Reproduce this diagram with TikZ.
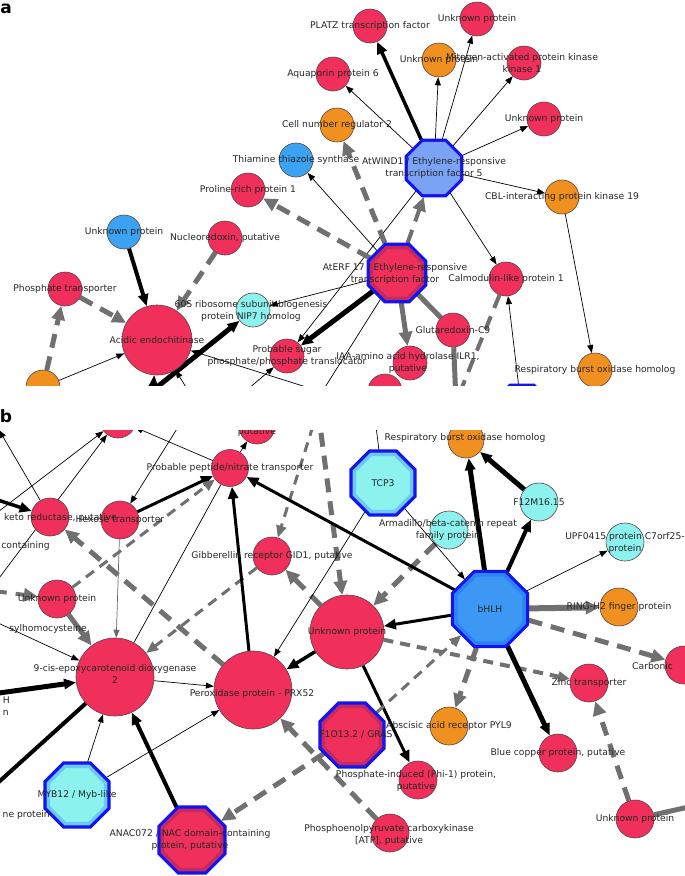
\documentclass[tikz,border=0pt]{standalone}
\usepackage{fontspec}
\newfontfamily\genefont{DejaVu Sans}
\usetikzlibrary{arrows.meta,shapes.geometric}
\definecolor{geneRed}{HTML}{F0305A}
\definecolor{geneOrange}{HTML}{F0901E}
\definecolor{geneBlue}{HTML}{3CA3F2}
\definecolor{geneCyan}{HTML}{8CF2EE}
\definecolor{geneEdge}{HTML}{5B4048}
\definecolor{tfBlue}{HTML}{1414F0}
\definecolor{tfPeri}{HTML}{7BA3F5}
\definecolor{tfRing}{HTML}{C42A62}
\definecolor{tfSky}{HTML}{6CC8F5}
\definecolor{tfMid}{HTML}{3C98F2}
\definecolor{tfMidRing}{HTML}{2A84F8}
\definecolor{edgeGray}{HTML}{707070}
\pgfdeclarelayer{edges}
\pgfdeclarelayer{texts}
\pgfsetlayers{edges,main,texts}

\begin{document}
\begin{tikzpicture}[
  x=1pt,
  y=-1pt,
  gene/.style={
    circle,
    draw=geneEdge,
    line width=.6pt,
    inner sep=0pt,
    minimum size=36pt
  },
  redgene/.style={gene, fill=geneRed},
  orangegene/.style={gene, fill=geneOrange},
  bluegene/.style={gene, fill=geneBlue},
  cyangene/.style={gene, fill=geneCyan},
  tf/.style={
    regular polygon,
    regular polygon sides=8,
    inner sep=0pt,
    outer sep=4.5pt,
    minimum size=62pt,
    line width=3.5pt,
    preaction={draw=tfBlue, line width=10pt}
  },
  peritf/.style={tf, fill=tfPeri, draw=tfPeri},
  redtf/.style={tf, fill=geneRed, draw=tfRing},
  cyantf/.style={tf, fill=geneCyan, draw=tfSky},
  bluetf/.style={tf, fill=tfMid, draw=tfMidRing},
  lbl/.style={
    font=\genefont\fontsize{9.2}{11.8}\selectfont,
    text=black!85,
    align=center,
    inner sep=0pt
  },
  panel/.style={font=\genefont\bfseries\fontsize{17}{17}\selectfont, inner sep=0pt},
  thinedge/.style={draw=black, line width=.7pt, -{Triangle[length=8pt,width=6pt]}},
  thickedge/.style={draw=black, line width=3.5pt, -{Triangle[length=12pt,width=10pt]}},
  greydash/.style={draw=edgeGray, line width=5pt, dash pattern=on 14pt off 9pt,
    -{Triangle[length=14pt,width=13pt]}},
  greymid/.style={draw=edgeGray, line width=3pt, dash pattern=on 10pt off 7pt,
    -{Triangle[length=12pt,width=10pt]}},
  greyline/.style={draw=edgeGray, line width=5pt, -{Triangle[length=14pt,width=13pt]}}
]

\useasboundingbox (0,0) rectangle (685,876);

\node[panel] (pa) at (6,9) {a};
\node[panel] (pb) at (6,416) {b};

% ---- panel a ----
\begin{scope}
  \clip (0,0) rectangle (685,385);
  \node[redgene, minimum size=34pt] (plat) at (370,26) {};
  \node[redgene, minimum size=34pt] (unktop) at (477,19) {};
  \node[orangegene, minimum size=34pt] (unkor) at (439,60) {};
  \node[redgene, minimum size=34pt] (mapk) at (524,63) {};
  \node[redgene, minimum size=34pt] (aqua) at (333,74) {};
  \node[redgene, minimum size=34pt] (unkr) at (544,119) {};
  \node[orangegene, minimum size=34pt] (cell) at (337,125) {};
  \node[bluegene, minimum size=34pt] (thia) at (296,160) {};
  \node[redgene, minimum size=34pt] (prol) at (248,190) {};
  \node[orangegene, minimum size=34pt] (cbl) at (562,197) {};
  \node[bluegene, minimum size=34pt] (unkb) at (124,232) {};
  \node[redgene, minimum size=34pt] (nucl) at (225,238) {};
  \node[redgene, minimum size=34pt] (phos) at (65,289) {};
  \node[redgene, minimum size=70pt] (acid) at (157,340) {};
  \node[cyangene, minimum size=34pt] (nip) at (253,310) {};
  \node[redgene, minimum size=34pt] (calm) at (506,279) {};
  \node[redgene, minimum size=34pt] (glut) at (453,330) {};
  \node[redgene, minimum size=34pt] (iaa) at (410,363) {};
  \node[redgene, minimum size=34pt] (sug) at (287,356) {};
  \node[orangegene, minimum size=34pt] (rboh) at (595,370) {};
  \node[orangegene, minimum size=34pt] (orA) at (43,387) {};
  \node[redgene, minimum size=34pt] (redA) at (385,391) {};
  \node[peritf, minimum size=53pt] (wind) at (434,168) {};
  \node[redtf, minimum size=55pt] (erf) at (397,273) {};
  \node[peritf, minimum size=55pt] (octA) at (522,414) {};
\end{scope}
\coordinate (hA1) at (116,420);
\coordinate (hA2) at (150,430);
\coordinate (hA3) at (200,410);
\coordinate (hA4) at (322,392);
\coordinate (hA5) at (456,402);
\coordinate (hA6) at (235,400);

\begin{pgfonlayer}{edges}
\begin{scope}
  \clip (0,0) rectangle (685,385);
  \draw[thickedge] (wind) -- (plat);
  \draw[thinedge] (wind) -- (aqua);
  \draw[thinedge] (wind) -- (unkor);
  \draw[thinedge] (wind) -- (unktop);
  \draw[thinedge] (wind) -- (mapk);
  \draw[thinedge] (wind) -- (unkr);
  \draw[thinedge] (wind) -- (cbl);
  \draw[thinedge] (wind) -- (calm);
  \draw[thinedge] (wind) -- (sug);
  \draw[thinedge] (erf) -- (thia);
  \draw[thinedge] (erf) -- (nip);
  \draw[greydash] (erf) -- (cell);
  \draw[greydash] (erf) -- (prol);
  \draw[greydash, line width=4pt] (erf) -- (wind);
  \draw[thickedge, line width=5pt] (erf) -- (sug);
  \draw[greyline] (erf) -- (iaa);
  \draw[greyline, -] (erf) -- (glut);
  \draw[greyline, -] (glut) -- (hA5);
  \draw[greydash, line width=4pt, -] (calm) -- (hA5);
  \draw[thinedge] (octA) -- (calm);
  \draw[thinedge] (cbl) -- (rboh);
  \draw[thickedge, line width=4pt] (unkb) -- (acid);
  \draw[greydash] (nucl) -- (acid);
  \draw[greydash] (phos) -- (acid);
  \draw[greydash] (orA) -- (phos);
  \draw[thinedge] (orA) -- (acid);
  \draw[thickedge, line width=5pt] (hA1) -- (nip);
  \draw[thickedge, line width=1.5pt] (hA2) -- (acid);
  \draw[thinedge] (hA3) -- (acid);
  \draw[thinedge] (hA4) -- (acid);
  \draw[thinedge, -] (erf) -- (hA4);
  \draw[thinedge] (hA6) -- (sug);
\end{scope}
\end{pgfonlayer}

\begin{pgfonlayer}{texts}
\begin{scope}
  \clip (0,0) rectangle (685,385);
  \node[lbl] (platT) at (plat) {PLATZ transcription factor};
  \node[lbl] (unktopT) at (unktop) {Unknown protein};
  \node[lbl] (unkorT) at (unkor) {Unknown protein};
  \node[lbl] (mapkT) at (522,63) {Mitogen-activated protein kinase\\kinase 1};
  \node[lbl] (aquaT) at (aqua) {Aquaporin protein 6};
  \node[lbl] (unkrT) at (unkr) {Unknown protein};
  \node[lbl] (cellT) at (cell) {Cell number regulator 2};
  \node[lbl] (thiaT) at (thia) {Thiamine thiazole synthase};
  \node[lbl] (prolT) at (prol) {Proline-rich protein 1};
  \node[lbl] (cblT) at (cbl) {CBL-interacting protein kinase 19};
  \node[lbl] (unkbT) at (unkb) {Unknown protein};
  \node[lbl] (nuclT) at (nucl) {Nucleoredoxin, putative};
  \node[lbl] (phosT) at (phos) {Phosphate transporter};
  \node[lbl] (acidT) at (acid) {Acidic endochitinase};
  \node[lbl] (nipT) at (251,311) {60S ribosome subunit biogenesis\\protein NIP7 homolog};
  \node[lbl] (calmT) at (calm) {Calmodulin-like protein 1};
  \node[lbl] (glutT) at (glut) {Glutaredoxin-C9};
  \node[lbl] (iaaT) at (408,363) {IAA-amino acid hydrolase ILR1,\\putative};
  \node[lbl] (sugT) at (sug) {Probable sugar\\phosphate/phosphate translocator};
  \node[lbl] (rbohT) at (rboh) {Respiratory burst oxidase homolog};
  \node[lbl] (windT) at (wind) {AtWIND1 / Ethylene-responsive\\transcription factor 5};
  \node[lbl] (erfT) at (395,274) {AtERF 17 / Ethylene-responsive\\transcription factor};
\end{scope}
\end{pgfonlayer}

% ---- panel b ----
\begin{scope}
  \clip (0,430) rectangle (685,876);
  \node[redgene] (topred) at (118,420) {};
  \node[redgene] (putn) at (257,426) {};
  \node[redgene, minimum size=37pt] (pept) at (230,468) {};
  \node[orangegene] (rboh2) at (466,440) {};
  \node[cyangene, minimum size=38pt] (f12) at (539,502) {};
  \node[cyangene, minimum size=38pt] (arm) at (449,530) {};
  \node[cyangene, minimum size=38pt] (upf) at (625,542) {};
  \node[orangegene, minimum size=38pt] (ring) at (619,607) {};
  \node[redgene, minimum size=38pt] (carb) at (684,665) {};
  \node[redgene, minimum size=38pt] (zinc) at (589,683) {};
  \node[redgene, minimum size=74pt] (unkc) at (347,632) {};
  \node[redgene, minimum size=38pt] (gib) at (272,556) {};
  \node[redgene, minimum size=38pt] (hex) at (120,520) {};
  \node[redgene, minimum size=38pt] (keto) at (50,517) {};
  \node[redgene, minimum size=38pt] (unkl) at (57,599) {};
  \node[redgene, minimum size=78pt] (nine) at (115,677) {};
  \node[redgene, minimum size=78pt] (prx) at (253,690) {};
  \node[redgene, minimum size=38pt] (phi) at (418,780) {};
  \node[orangegene, minimum size=38pt] (aba) at (449,726) {};
  \node[redgene, minimum size=38pt] (bcp) at (558,753) {};
  \node[redgene, minimum size=38pt] (unkbr) at (635,819) {};
  \node[redgene, minimum size=38pt] (pep) at (390,833) {};
  \node[cyantf] (tcp) at (383,483) {};
  \node[bluetf, minimum size=74pt] (bhlh) at (490,609) {};
  \node[redtf] (f1o) at (352,735) {};
  \node[cyantf] (myb) at (77,795) {};
  \node[redtf, minimum size=64pt] (anac) at (192,840) {};
\end{scope}
\coordinate (bL1) at (-1,430);
\coordinate (bL2) at (-40,541);
\coordinate (bL3) at (-30,491);
\coordinate (bL4) at (-30,588);
\coordinate (bL5) at (-30,610);
\coordinate (bL6) at (-30,697);
\coordinate (bL7) at (-30,808);
\coordinate (bL8) at (-25,610);
\coordinate (bT1) at (190,408);
\coordinate (bT2) at (318,410);
\coordinate (bT3) at (374,410);
\coordinate (bR1) at (720,800);

\begin{pgfonlayer}{edges}
\begin{scope}
  \clip (0,430) rectangle (685,876);
  \draw[thinedge] (keto) -- (bL1);
  \draw[thinedge] (bL2) -- (topred);
  \draw[thinedge] (bL8) -- (topred);
  \draw[thickedge] (bL3) -- (keto);
  \draw[thinedge] (pept) -- (topred);
  \draw[thinedge] (pept) -- (putn);
  \draw[thinedge] (bT1) -- (hex);
  \draw[thinedge, draw=black!60] (hex) -- (nine);
  \draw[thickedge, line width=3pt] (hex) -- (pept);
  \draw[greymid] (unkl) -- (pept);
  \draw[greydash, line width=4pt] (bL4) -- (unkl);
  \draw[greyline] (unkl) -- (nine);
  \draw[thinedge] (bL5) -- (nine);
  \draw[greydash] (prx) -- (keto);
  \draw[greymid] (gib) -- (nine);
  \draw[greymid] (bT2) -- (gib);
  \draw[greydash] (bT2) -- (unkc);
  \draw[greydash] (unkc) -- (gib);
  \draw[greydash] (arm) -- (unkc);
  \draw[thickedge, line width=3pt] (bhlh) -- (pept);
  \draw[thickedge, line width=3pt] (prx) -- (pept);
  \draw[thinedge, -] (nine) -- (pept);
  \draw[thinedge] (tcp) -- (prx);
  \draw[thinedge] (tcp) -- (bhlh);
  \draw[thinedge, -] (tcp) -- (bT3);
  \draw[thickedge, line width=5pt] (bhlh) -- (rboh2);
  \draw[thickedge, line width=5pt] (f12) -- (rboh2);
  \draw[thickedge, line width=4pt] (bhlh) -- (f12);
  \draw[thinedge] (bhlh) -- (upf);
  \draw[greyline, line width=6pt] (bhlh) -- (ring);
  \draw[greydash] (bhlh) -- (carb);
  \draw[thickedge, line width=3pt] (bhlh) -- (unkc);
  \draw[greymid, line width=4pt] (unkc) -- (zinc);
  \draw[greydash] (bhlh) -- (aba);
  \draw[thickedge, line width=5pt] (bhlh) -- (bcp);
  \draw[thickedge, line width=3pt] (unkc) -- (phi);
  \draw[thickedge] (unkc) -- (prx);
  \draw[greymid] (f1o) -- (bhlh);
  \draw[greydash] (pep) -- (prx);
  \draw[greydash] (f1o) -- (anac);
  \draw[thickedge, line width=4pt] (anac) -- (nine);
  \draw[thinedge] (myb) -- (nine);
  \draw[thinedge] (myb) -- (prx);
  \draw[thinedge] (nine) -- (prx);
  \draw[thickedge, line width=5pt] (bL6) -- (nine);
  \draw[thickedge, line width=4pt, -] (nine) -- (bL7);
  \draw[greydash] (unkbr) -- (zinc);
  \draw[greyline, -] (unkbr) -- (bR1);
\end{scope}
\end{pgfonlayer}

\begin{pgfonlayer}{texts}
\begin{scope}
  \clip (0,430) rectangle (685,876);
  \node[lbl] (putnT) at (257,432) {putative};
  \node[lbl] (peptT) at (pept) {Probable peptide/nitrate transporter};
  \node[lbl] (rboh2T) at (465,438) {Respiratory burst oxidase homolog};
  \node[lbl] (tcpT) at (tcp) {TCP3};
  \node[lbl] (f12T) at (f12) {F12M16.15};
  \node[lbl] (armT) at (448,530) {Armadillo/beta-catenin repeat\\family protein};
  \node[lbl] (upfT) at (625,543) {UPF0415 protein C7orf25-\\protein};
  \node[lbl] (bhlhT) at (bhlh) {bHLH};
  \node[lbl] (ringT) at (ring) {RING-H2 finger protein};
  \node[lbl, anchor=west] (carbT) at (632,666) {Carbonic};
  \node[lbl] (zincT) at (zinc) {Zinc transporter};
  \node[lbl] (unkcT) at (unkc) {Unknown protein};
  \node[lbl] (gibT) at (gib) {Gibberellin receptor GID1, putative};
  \node[lbl] (hexT) at (hex) {Hexose transporter};
  \node[lbl, anchor=west] (ketoT) at (4,518) {keto reductase, putative};
  \node[lbl, anchor=east] (contT) at (50,546) {containing};
  \node[lbl] (unklT) at (unkl) {Unknown protein};
  \node[lbl, anchor=east] (sylT) at (87,629) {sylhomocysteine};
  \node[lbl, anchor=east] (hT) at (10,700) {H};
  \node[lbl, anchor=east] (nT) at (9,713) {n};
  \node[lbl] (nineT) at (115,674) {9-cis-epoxycarotenoid dioxygenase\\2};
  \node[lbl] (prxT) at (252,694) {Peroxidase protein - PRX52};
  \node[lbl] (f1oT) at (356,735) {F1O13.2 / GRAS};
  \node[lbl] (phiT) at (416,781) {Phosphate-induced (Phi-1) protein,\\putative};
  \node[lbl] (abaT) at (aba) {Abscisic acid receptor PYL9};
  \node[lbl] (bcpT) at (bcp) {Blue copper protein, putative};
  \node[lbl] (unkbrT) at (unkbr) {Unknown protein};
  \node[lbl] (pepT) at (389,835) {Phosphoenolpyruvate carboxykinase\\{}[ATP], putative};
  \node[lbl] (mybT) at (myb) {MYB12 / Myb-like};
  \node[lbl, anchor=east] (neT) at (50,815) {ne protein};
  \node[lbl] (anacT) at (190,840) {ANAC072 / NAC domain-containing\\protein, putative};
\end{scope}
\end{pgfonlayer}
\end{tikzpicture}
\end{document}
